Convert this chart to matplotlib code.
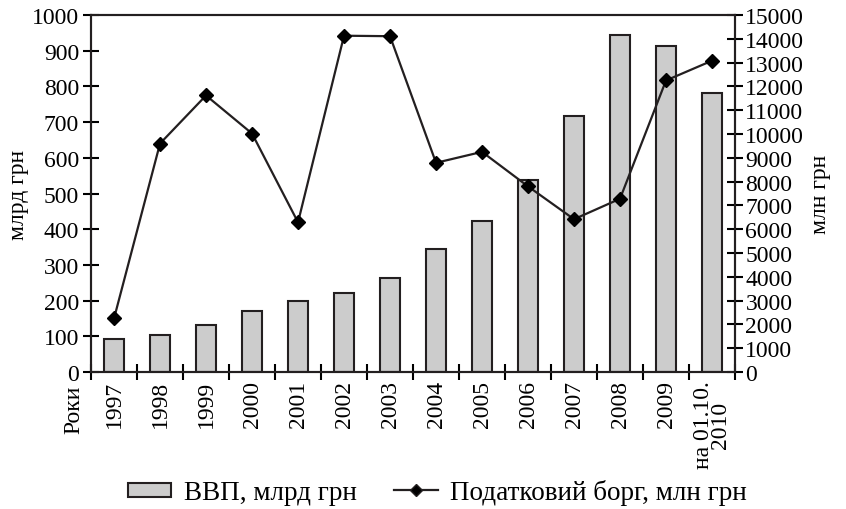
import numpy as np
import matplotlib
matplotlib.use('Agg')
import matplotlib.pyplot as plt
from matplotlib.lines import Line2D
from matplotlib.patches import Patch, Rectangle
from matplotlib.legend_handler import HandlerPatch

years = ['1997', '1998', '1999', '2000', '2001', '2002', '2003', '2004',
         '2005', '2006', '2007', '2008', '2009', 'на 01.10.\n2010']
gdp = [93, 103, 131, 170, 200, 221, 262, 345, 423, 538, 716, 945, 913, 781]
tax_debt = [2250, 9600, 11620, 10020, 6290, 14130, 14110, 8790,
            9250, 7800, 6420, 7280, 12250, 13080]

plt.rcParams['font.family'] = ['Liberation Serif', 'DejaVu Serif']
plt.rcParams['font.size'] = 17

fig = plt.figure(figsize=(8.46, 5.10), dpi=100)
ax = fig.add_axes([0.1076, 0.2686, 0.7612, 0.7000])
ax2 = ax.twinx()

x = np.arange(len(years))
ax.bar(x, gdp, 0.43, color='#cccccc', edgecolor='#231f20', linewidth=1.5, zorder=2)
ax2.plot(x, tax_debt, color='#231f20', linewidth=1.6, marker='D', markersize=7,
         markerfacecolor='black', markeredgecolor='black', zorder=3)

ax.set_xlim(-0.5, len(years) - 0.5)
ax.set_ylim(0, 1000)
ax2.set_ylim(0, 15000)
ax.set_yticks(np.arange(0, 1001, 100))
ax2.set_yticks(np.arange(0, 15001, 1000))

# ticks between categories, labels at centres
ax.set_xticks(np.arange(-0.5, len(years) - 0.4, 1))
ax.set_xticklabels([])
ax.set_xticks(x, minor=True)
ax.set_xticklabels(years, minor=True, rotation=90, va='top', ha='center',
                   linespacing=0.8)
ax.tick_params(axis='x', which='minor', length=0, pad=6)
ax.tick_params(axis='x', which='major', direction='inout', length=11, width=1.5)
ax.tick_params(axis='y', direction='inout', length=11, width=1.5, pad=3)
ax2.tick_params(axis='y', direction='inout', length=11, width=1.5, pad=2)

for a in (ax, ax2):
    for s in a.spines.values():
        s.set_linewidth(1.5)
        s.set_color('#231f20')

ax.set_ylabel('млрд грн', labelpad=2)
ax2.set_ylabel('млн грн', labelpad=4)
ax.text(-0.027, -0.035, 'Роки', transform=ax.transAxes, rotation=90,
        ha='center', va='top')


def small_box(legend, orig_handle, xdescent, ydescent, width, height, fontsize):
    h = height * 0.75
    return Rectangle((-xdescent, -ydescent + (height - h) / 2), width, h)


handles = [Patch(facecolor='#cccccc', edgecolor='#231f20', linewidth=1.5,
                 label='ВВП, млрд грн'),
           Line2D([], [], color='#231f20', linewidth=1.6, marker='D', markersize=6,
                  markerfacecolor='black', label='Податковий борг, млн грн')]
fig.legend(handles=handles, loc='center', bbox_to_anchor=(0.517, 0.033), ncol=2,
           frameon=False, fontsize=19.5, handlelength=1.6, columnspacing=1.4,
           handletextpad=0.45,
           handler_map={Patch: HandlerPatch(patch_func=small_box)})

plt.savefig('out.png', dpi=100)
